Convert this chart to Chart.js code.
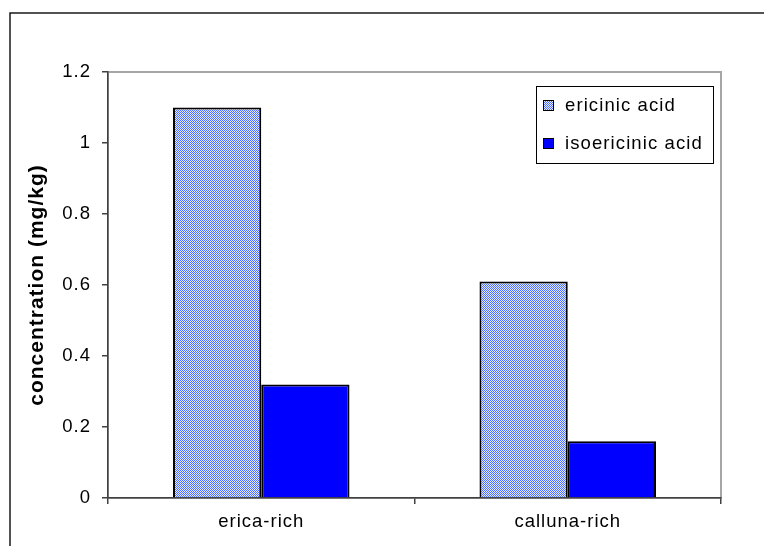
<!DOCTYPE html>
<html>
<head>
<meta charset="utf-8">
<script src="https://cdn.jsdelivr.net/npm/chart.js@4"></script>
<style>
  body { margin: 0; background: #fff; }
  canvas { display: block; }
</style>
</head>
<body>
<canvas id="myChart" width="764" height="546"></canvas>
<script>
const categories = ['erica-rich', 'calluna-rich'];
const seriesNames = ['ericinic acid', 'isoericinic acid'];
const ericinic = [1.1, 0.61];
const isoericinic = [0.32, 0.16];
const yTicks = ['0', '0.2', '0.4', '0.6', '0.8', '1', '1.2'];

const FONT = "'Liberation Sans', Arial, sans-serif";

// dotted light-blue fill like the Excel pattern
function makePattern() {
    const c = document.createElement('canvas');
    c.width = 2;
    c.height = 2;
    const g = c.getContext('2d');
    g.fillStyle = '#e4eaff';
    g.fillRect(0, 0, 2, 2);
    g.fillStyle = '#4f6fff';
    g.fillRect(0, 0, 1, 1);
    g.fillRect(1, 1, 1, 1);
    return g.createPattern(c, 'repeat');
}

const frame = {
    id: 'frame',
    beforeDraw(chart) {
        const ctx = chart.ctx;
        const a = chart.chartArea;
        // the old Excel text is set a little wide
        ctx.letterSpacing = '1px';
        ctx.save();
        ctx.strokeStyle = '#1a1a1a';
        ctx.lineWidth = 1.5;
        ctx.strokeRect(10, 13, 800, 600);
        ctx.strokeStyle = '#a6a6a6';
        ctx.lineWidth = 2;
        ctx.strokeRect(a.left, a.top, a.right - a.left, a.bottom - a.top);
        ctx.restore();
    }
};

const boxLegend = {
    id: 'boxLegend',
    afterDraw(chart) {
        const ctx = chart.ctx;
        const x0 = 536, y0 = 86, w = 177, h = 77;
        ctx.save();
        ctx.fillStyle = '#fff';
        ctx.fillRect(x0, y0, w, h);
        ctx.strokeStyle = '#000';
        ctx.lineWidth = 1;
        ctx.strokeRect(x0 + 0.5, y0 + 0.5, w, h);
        ctx.font = '18.5px ' + FONT;
        ctx.letterSpacing = '1.1px';
        ctx.textBaseline = 'middle';
        chart.data.datasets.forEach((ds, i) => {
            const cy = y0 + 19 + i * 38;
            ctx.fillStyle = ds.backgroundColor;
            ctx.fillRect(x0 + 7, cy - 5, 10, 11);
            ctx.strokeStyle = '#000';
            ctx.strokeRect(x0 + 7.5, cy - 4.5, 10, 10);
            ctx.fillStyle = '#000';
            ctx.fillText(ds.label, x0 + 29, cy + 1);
        });
        ctx.restore();
    }
};

new Chart(document.getElementById('myChart').getContext('2d'), {
    type: 'bar',
    data: {
        labels: categories,
        datasets: [
            {
                label: seriesNames[0],
                data: ericinic,
                backgroundColor: makePattern(),
                borderColor: '#000',
                borderWidth: 2
            },
            {
                label: seriesNames[1],
                data: isoericinic,
                backgroundColor: '#0000ff',
                borderColor: '#000',
                borderWidth: 2
            }
        ]
    },
    options: {
        responsive: false,
        animation: false,
        layout: { padding: { left: 10, top: 72, right: 43, bottom: 0 } },
        datasets: {
            bar: { categoryPercentage: 0.576, barPercentage: 1 }
        },
        plugins: {
            legend: { display: false },
            tooltip: { enabled: false }
        },
        scales: {
            x: {
                grid: { drawOnChartArea: false, tickLength: 6, color: '#404040', lineWidth: 1.5 },
                border: { color: '#404040', width: 1.5 },
                ticks: { color: '#000', font: { family: FONT, size: 18.5 }, padding: 7 },
                afterFit(scale) { scale.height = 48; }
            },
            y: {
                min: 0,
                max: 1.2,
                grid: { drawOnChartArea: false, tickLength: 6, color: '#404040', lineWidth: 1.5 },
                border: { color: '#404040', width: 1.5 },
                ticks: {
                    stepSize: 0.2,
                    color: '#000',
                    padding: 11,
                    font: { family: FONT, size: 18.5 },
                    callback: (v, i) => yTicks[i]
                },
                title: {
                    display: true,
                    text: 'concentration (mg/kg)',
                    color: '#000',
                    font: { family: FONT, size: 21, weight: 'bold' },
                    padding: { top: 15, bottom: 0 }
                },
                afterFit(scale) { scale.width = 98; }
            }
        }
    },
    plugins: [frame, boxLegend]
});
</script>
</body>
</html>
